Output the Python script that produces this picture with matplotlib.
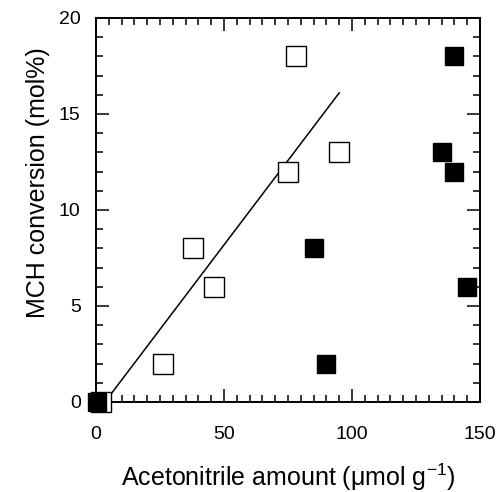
import matplotlib
matplotlib.use("Agg")
import matplotlib.pyplot as plt
from matplotlib.ticker import MultipleLocator
from matplotlib.transforms import ScaledTranslation

plt.rcParams['font.family'] = ['Liberation Sans', 'DejaVu Sans']
plt.rcParams['mathtext.fontset'] = 'custom'
plt.rcParams['mathtext.rm'] = 'Liberation Sans'
plt.rcParams['mathtext.it'] = 'Liberation Sans:italic'

# open squares
open_x = [2, 26, 38, 46, 75, 78, 95]
open_y = [0, 2, 8, 6, 12, 18, 13]
# filled squares
filled_x = [0.4, 85, 90, 135, 140, 140, 145]
filled_y = [0, 8, 2, 13, 18, 12, 6]
# fitted line
line_x = [3.5, 95]
line_y = [0, 16.1]

fig = plt.figure(figsize=(4.98, 4.92), dpi=100)
ax = fig.add_axes([96/498, 90/492, 384/498, 384/492])

ax.plot(line_x, line_y, color='black', lw=1.1, zorder=2)
ax.plot(open_x, open_y, 's', ms=15, mfc='white', mec='black', mew=1.0,
        linestyle='none', clip_on=False, zorder=3)
ax.plot(filled_x, filled_y, 's', ms=13, mfc='black', mec='black', mew=1.0,
        linestyle='none', clip_on=False, zorder=4)

ax.set_xlim(0, 150)
ax.set_ylim(0, 20)
ax.xaxis.set_major_locator(MultipleLocator(50))
ax.xaxis.set_minor_locator(MultipleLocator(5))
ax.yaxis.set_major_locator(MultipleLocator(5))
ax.yaxis.set_minor_locator(MultipleLocator(1))

for s in ax.spines.values():
    s.set_linewidth(1.4)

ax.tick_params(which='both', direction='in', top=True, right=True, width=1.1)
ax.tick_params(which='major', length=9.5)
ax.tick_params(which='minor', length=5)
ax.tick_params(axis='x', which='major', pad=17, labelsize=14)
ax.tick_params(axis='y', which='major', pad=11, labelsize=14)

ax.set_xlabel('Acetonitrile amount (\u03bcmol g$^{-1}$)', fontsize=18, labelpad=14)
ax.set_ylabel('MCH conversion (mol%)', fontsize=18)
ax.yaxis.set_label_coords(-0.12, 0.57)

# the "0" on the y axis sits a little further left to clear the marker
fig.canvas.draw()
t0 = ax.yaxis.get_major_ticks()[0]
t0.label1.set_transform(t0.label1.get_transform() +
                        ScaledTranslation(-5/100, -3/100, fig.dpi_scale_trans))

fig.savefig('out.png', dpi=100)
